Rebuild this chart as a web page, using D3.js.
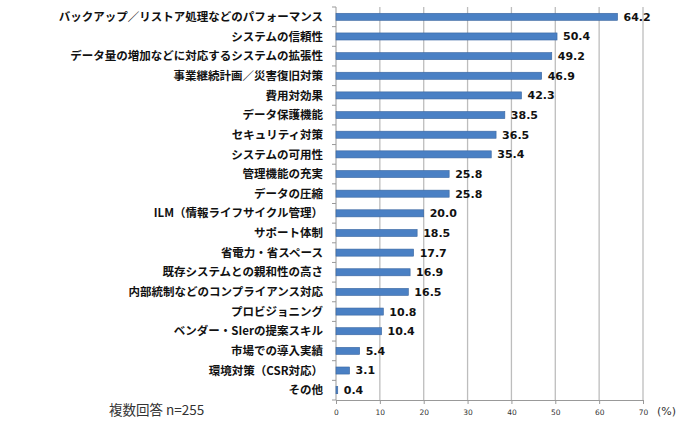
<!DOCTYPE html>
<html>
<head>
<meta charset="utf-8">
<script src="https://cdn.jsdelivr.net/npm/d3@7"></script>
<style>
body { margin: 0; background: #fff; }
.cat { font-family: "Noto Sans CJK JP", sans-serif; font-weight: bold; font-size: 11.5px; fill: #111; }
.val { font-family: "DejaVu Sans", sans-serif; font-weight: bold; font-size: 11px; fill: #111; }
.tick text { font-family: "DejaVu Sans", sans-serif; font-size: 7.5px; fill: #333; }
</style>
</head>
<body>
<div class="chart"></div>
<script>
var categories = [
    'バックアップ／リストア処理などのパフォーマンス',
    'システムの信頼性',
    'データ量の増加などに対応するシステムの拡張性',
    '事業継続計画／災害復旧対策',
    '費用対効果',
    'データ保護機能',
    'セキュリティ対策',
    'システムの可用性',
    '管理機能の充実',
    'データの圧縮',
    'ILM（情報ライフサイクル管理）',
    'サポート体制',
    '省電力・省スペース',
    '既存システムとの親和性の高さ',
    '内部統制などのコンプライアンス対応',
    'プロビジョニング',
    'ベンダー・SIerの提案スキル',
    '市場での導入実績',
    '環境対策（CSR対応）',
    'その他'
];
var values = [64.2, 50.4, 49.2, 46.9, 42.3, 38.5, 36.5, 35.4, 25.8, 25.8,
    20.0, 18.5, 17.7, 16.9, 16.5, 10.8, 10.4, 5.4, 3.1, 0.4];
var xTicks = [0, 10, 20, 30, 40, 50, 60, 70];

var margin = {top: 7, right: 57, bottom: 40, left: 336};
var width = 700 - margin.left - margin.right;
var height = 440 - margin.top - margin.bottom;

var data = categories.map((c, i) => ({name: c, value: values[i]}));

var svg = d3.select('.chart').append('svg')
    .attr('width', 700)
    .attr('height', 440);

var g = svg.append('g')
    .attr('transform', `translate(${margin.left},${margin.top})`);

var xScale = d3.scaleLinear().domain([0, 70]).range([0, width]);
var yScale = d3.scaleBand().domain(categories).range([0, height]).paddingInner(0.64).paddingOuter(0.32);

// grid
g.selectAll('.grid').data(xTicks.slice(1))
    .enter().append('line')
    .attr('x1', d => xScale(d)).attr('x2', d => xScale(d))
    .attr('y1', 0).attr('y2', height)
    .attr('stroke', '#bdbdbd').attr('stroke-width', 1.3);

// x axis
var xAxis = g.append('g')
    .attr('transform', `translate(0,${height})`)
    .call(d3.axisBottom(xScale).tickValues(xTicks).tickSize(4).tickPadding(6));
xAxis.select('.domain').attr('stroke', '#999');
xAxis.selectAll('.tick line').attr('stroke', '#999');

// y axis: ticks at band edges
var edges = d3.range(categories.length + 1).map(i => i * height / categories.length);
g.append('line').attr('x1', 0).attr('x2', 0).attr('y1', 0).attr('y2', height)
    .attr('stroke', '#999');
g.selectAll('.ytick').data(edges).enter().append('line')
    .attr('x1', -4).attr('x2', 0)
    .attr('y1', d => d).attr('y2', d => d)
    .attr('stroke', '#999');

// bars
g.selectAll('.bar').data(data)
    .enter().append('rect')
    .attr('x', 0)
    .attr('y', d => yScale(d.name))
    .attr('width', d => xScale(d.value))
    .attr('height', yScale.bandwidth())
    .attr('fill', '#4a80c4')
    .attr('stroke', '#3a66a0')
    .attr('stroke-width', 0.6);

// value labels
g.selectAll('.val').data(data)
    .enter().append('text')
    .attr('class', 'val')
    .attr('x', d => xScale(d.value) + 6)
    .attr('y', d => yScale(d.name) + yScale.bandwidth() / 2)
    .attr('dy', '0.36em')
    .text(d => d.value.toFixed(1));

// category labels
g.selectAll('.cat').data(data)
    .enter().append('text')
    .attr('class', 'cat')
    .attr('x', -13)
    .attr('y', d => yScale(d.name) + yScale.bandwidth() / 2)
    .attr('dy', '0.36em')
    .attr('text-anchor', 'end')
    .text(d => d.name);

svg.append('text')
    .attr('x', 657).attr('y', 415)
    .style('font-family', '"DejaVu Sans", sans-serif')
    .style('font-size', '11px')
    .attr('fill', '#333')
    .text('(%)');

svg.append('text')
    .attr('x', 109).attr('y', 415)
    .style('font-family', '"Noto Sans CJK JP", sans-serif')
    .style('font-size', '13.5px')
    .attr('fill', '#333')
    .text('複数回答 n=255');
</script>
</body>
</html>
